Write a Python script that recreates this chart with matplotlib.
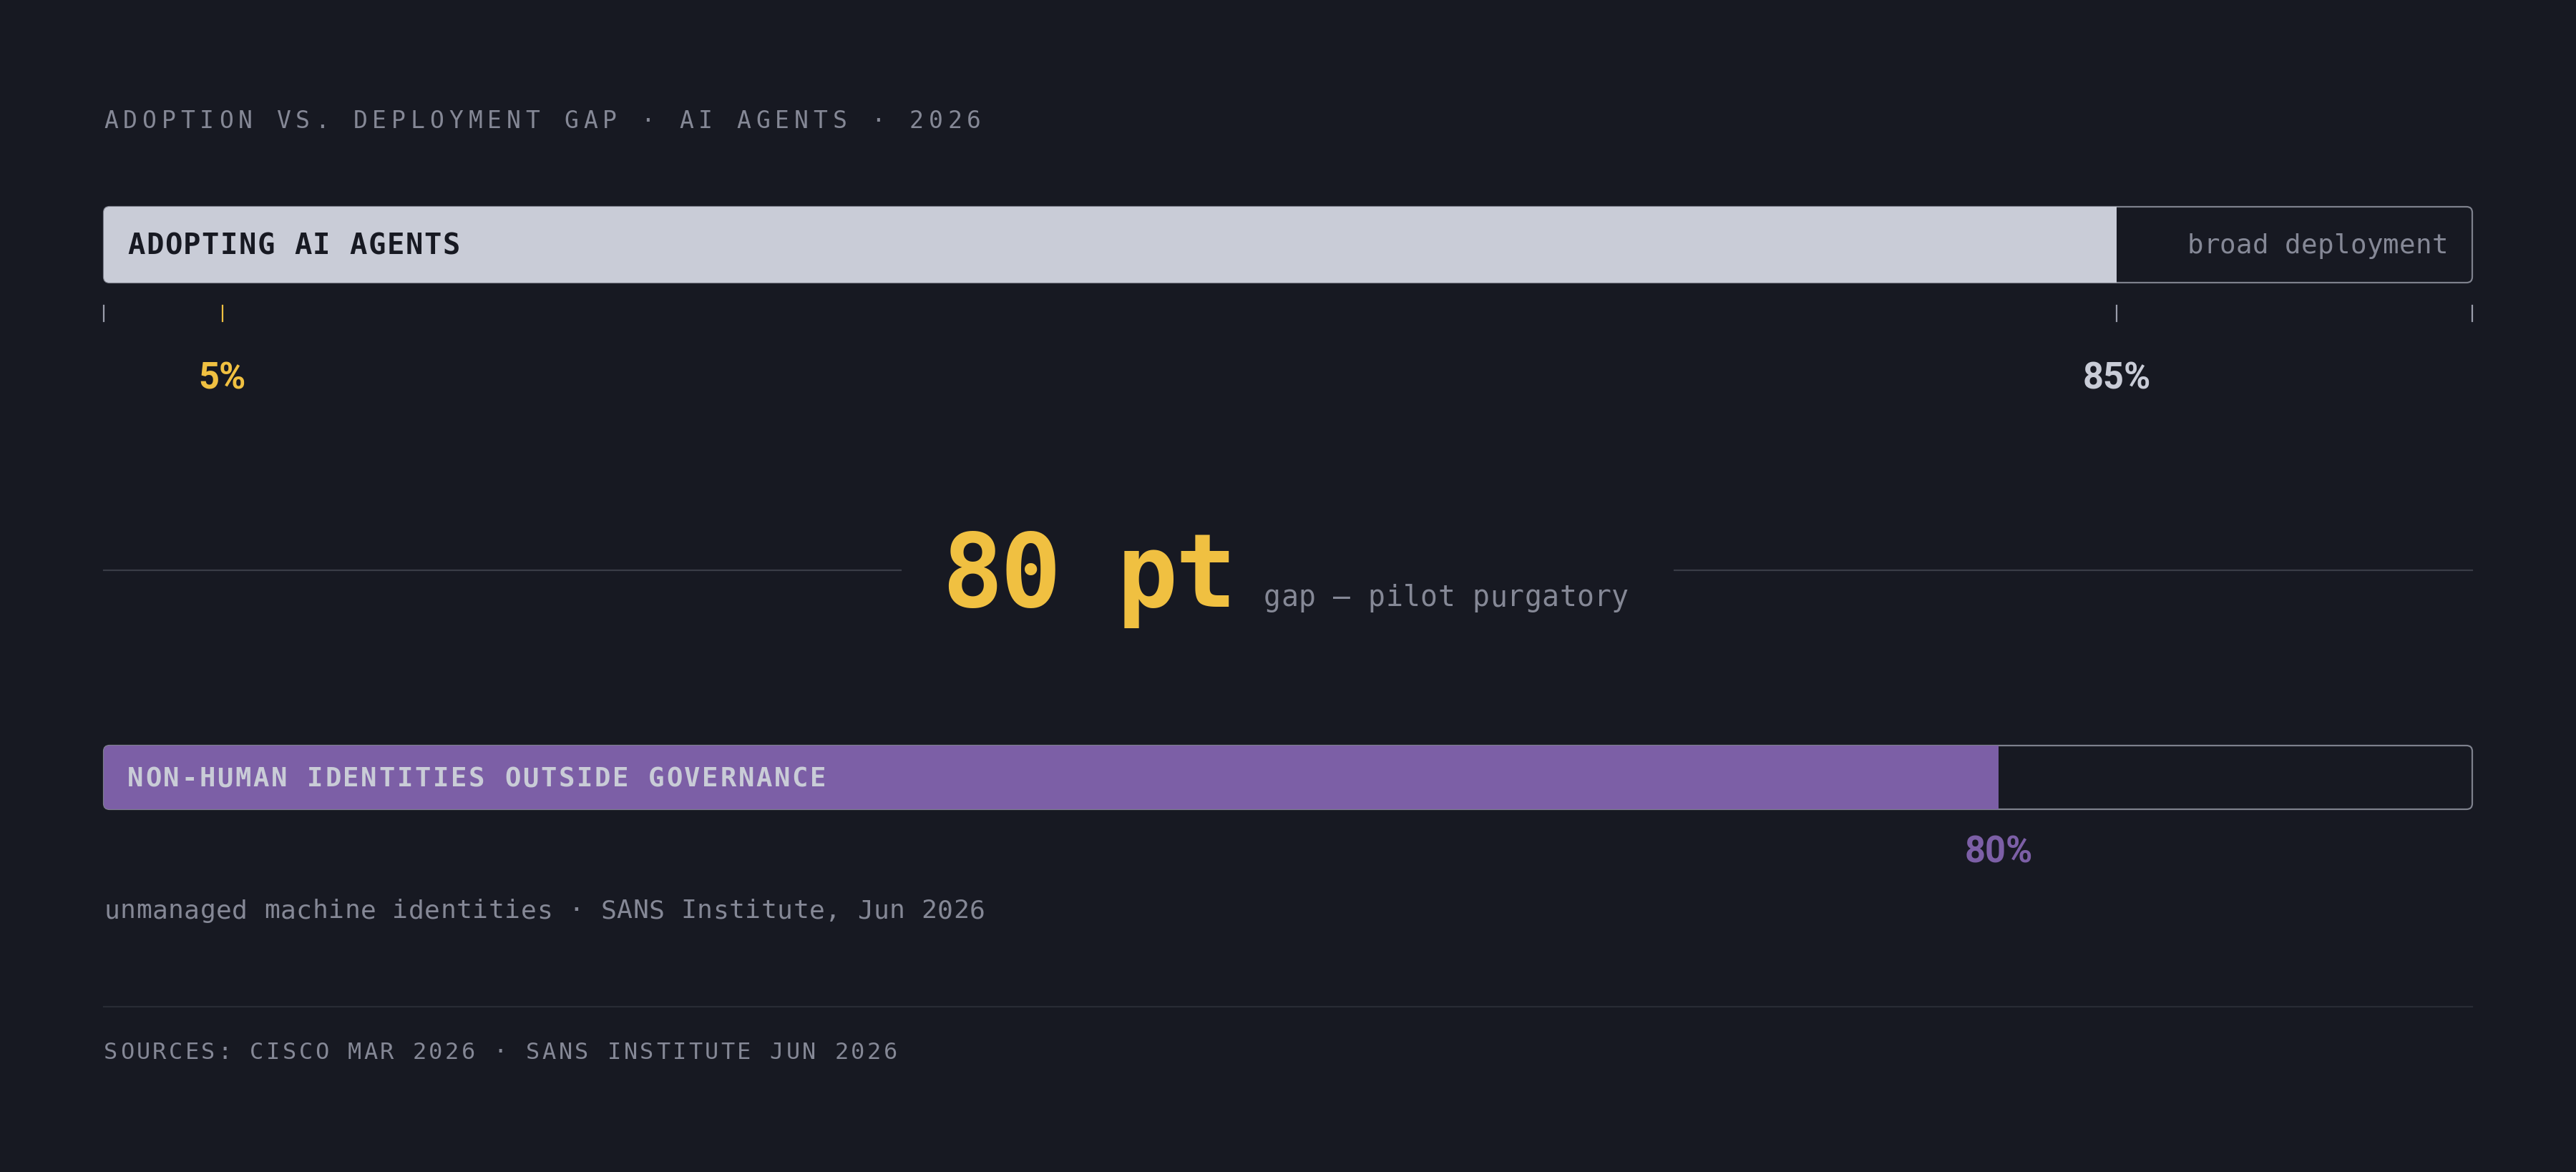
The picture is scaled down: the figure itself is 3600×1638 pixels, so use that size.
import matplotlib
matplotlib.use("Agg")
import matplotlib.pyplot as plt
import matplotlib.transforms as mtransforms
from matplotlib.patches import FancyBboxPatch

# %% data
adopting_pct = 85      # share adopting AI agents
deployed_pct = 5       # share with broad deployment
ungoverned_pct = 80    # non-human identities outside governance
gap_pt = adopting_pct - deployed_pct

title = "ADOPTION VS. DEPLOYMENT GAP · AI AGENTS · 2026"
bar1_label = "ADOPTING AI AGENTS"
bar1_right = "broad deployment"
bar2_label = "NON-HUMAN IDENTITIES OUTSIDE GOVERNANCE"
gap_note = "gap — pilot purgatory"
bar2_note = "unmanaged machine identities · SANS Institute, Jun 2026"
sources = "SOURCES: CISCO MAR 2026 · SANS INSTITUTE JUN 2026"

# %% colours
BG = "#171922"
GREY = "#858896"
LIGHT = "#c9ccd7"
EDGE = "#7e818d"
YELLOW = "#f0c041"
PURPLE = "#7c5fa6"
DIVIDER = "#3a3d47"
RULE = "#292c35"

# %% figure + a full-size pixel layout axes (kept on top for the text)
W, H, DPI = 3600, 1638, 200
PX = DPI / 72
L, R = 145, 3455  # left / right edge of the tracks in pixels

fig = plt.figure(figsize=(W / DPI, H / DPI), dpi=DPI, facecolor=BG)
lay = fig.add_axes([0, 0, 1, 1])
lay.set_xlim(0, W)
lay.set_ylim(H, 0)
lay.axis("off")
lay.set_zorder(5)

MONO = "DejaVu Sans Mono"


def mono(x0, y, s, size, pitch, color, weight="normal"):
    # letter-spaced monospace text, one glyph per cell
    adv = 0.602 * size * PX
    for i, ch in enumerate(s):
        if ch == " ":
            continue
        lay.text(x0 + i * pitch + adv / 2, y, ch, ha="center", va="baseline",
                 fontsize=size, family=MONO, weight=weight, color=color)


def track(top, bottom, value, fill):
    ax = fig.add_axes([L / W, 1 - bottom / H, (R - L) / W, (bottom - top) / H])
    ax.set_xlim(0, 100)
    ax.set_ylim(0, 1)
    ax.axis("off")
    r = 8
    rx = r / (R - L) * 100
    ry = r / (bottom - top)
    box = FancyBboxPatch((0, 0), 100, 1, boxstyle=f"round,pad=0,rounding_size={rx}",
                         mutation_aspect=ry / rx, fc="none", ec=EDGE, lw=0.8, zorder=1)
    box.set_clip_on(False)
    ax.add_patch(box)
    bars = ax.barh(0.5, value, height=1, left=0, color=fill, zorder=2)
    for b in bars:
        b.set_clip_path(box)
    return ax


# %% title
mono(145, 179, title, 11.9, 26.8, GREY)

# %% top bar: adoption vs deployment
ax1 = track(289, 395, adopting_pct, LIGHT)
mono(178, 355, bar1_label, 14.6, 25.9, BG, weight="bold")
n = len(bar1_right)
mono(3421 - (n - 1) * 22.8 - 0.602 * 13.5 * PX, 354, bar1_right, 13.5, 22.8, GREY)

blend1 = mtransforms.blended_transform_factory(ax1.transData, lay.transData)
tick_vals = [0, deployed_pct, adopting_pct, 100]
tick_cols = ["#9a9dab", YELLOW, "#9a9dab", "#9a9dab"]
for v, c in zip(tick_vals, tick_cols):
    ax1.plot([v, v], [427, 449], transform=blend1, color=c, lw=0.8, clip_on=False)

for v, c in [(deployed_pct, YELLOW), (adopting_pct, LIGHT)]:
    ax1.text(v, 543, f"{v}%", transform=blend1, ha="center", va="baseline",
             family="Roboto", weight="bold", fontsize=18.2, color=c, clip_on=False)

# %% gap callout
lay.plot([L, 1259], [797, 797], color=DIVIDER, lw=0.8)
lay.plot([2340, R], [797, 797], color=DIVIDER, lw=0.8)
mono(1316, 848, f"{gap_pt} pt", 51, 81.6, YELLOW, weight="bold")
mono(1766, 847, gap_note, 14.3, 24.3, GREY)

# %% bottom bar: ungoverned identities
ax2 = track(1042, 1131, ungoverned_pct, PURPLE)
mono(178, 1099, bar2_label, 13.4, 25.1, LIGHT, weight="bold")
blend2 = mtransforms.blended_transform_factory(ax2.transData, lay.transData)
ax2.text(ungoverned_pct, 1205, f"{ungoverned_pct}%", transform=blend2, ha="center",
         va="baseline", family="Roboto", weight="bold", fontsize=18.2, color=PURPLE,
         clip_on=False)
mono(145, 1283, bar2_note, 13.1, 22.4, GREY)

# %% footer
lay.plot([L, R], [1407, 1407], color=RULE, lw=0.8)
mono(145, 1480, sources, 11.5, 22.7, GREY)

fig.savefig("out.png", dpi=DPI, facecolor=BG)
